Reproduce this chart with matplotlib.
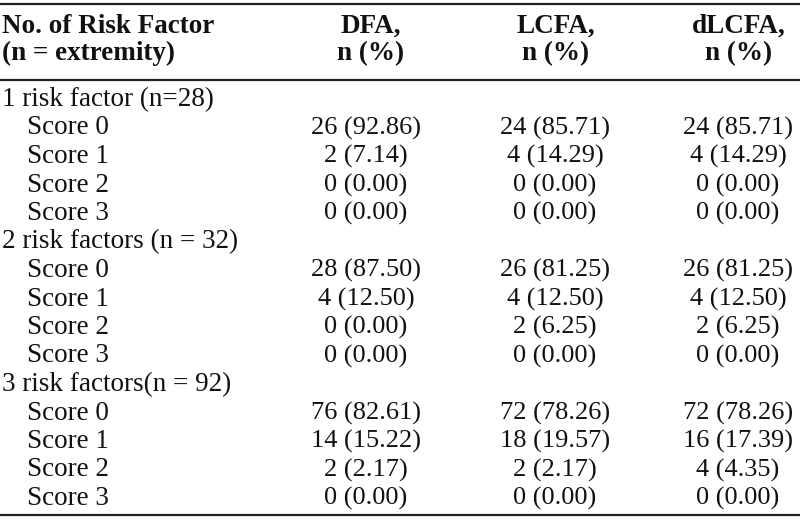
import matplotlib
matplotlib.use("Agg")
import matplotlib.pyplot as plt

header_left = ["No. of Risk Factor", "(n = extremity)"]
columns = ["DFA,\nn (%)", "LCFA,\nn (%)", "dLCFA,\nn (%)"]
groups = ["1 risk factor (n=28)", "2 risk factors (n = 32)", "3 risk factors(n = 92)"]
scores = ["Score 0", "Score 1", "Score 2", "Score 3"]

dfa = [["26 (92.86)", "2 (7.14)", "0 (0.00)", "0 (0.00)"],
       ["28 (87.50)", "4 (12.50)", "0 (0.00)", "0 (0.00)"],
       ["76 (82.61)", "14 (15.22)", "2 (2.17)", "0 (0.00)"]]
lcfa = [["24 (85.71)", "4 (14.29)", "0 (0.00)", "0 (0.00)"],
        ["26 (81.25)", "4 (12.50)", "2 (6.25)", "0 (0.00)"],
        ["72 (78.26)", "18 (19.57)", "2 (2.17)", "0 (0.00)"]]
dlcfa = [["24 (85.71)", "4 (14.29)", "0 (0.00)", "0 (0.00)"],
         ["26 (81.25)", "4 (12.50)", "2 (6.25)", "0 (0.00)"],
         ["72 (78.26)", "16 (17.39)", "4 (4.35)", "0 (0.00)"]]

W, H = 800, 522
fig = plt.figure(figsize=(W / 100, H / 100), dpi=100)
ax = fig.add_axes([0, 0, 1, 1])
ax.set_xlim(0, W)
ax.set_ylim(H, 0)
ax.axis("off")

FONT = ["Liberation Serif", "DejaVu Serif"]
FS_LBL = 19.5
FS_NUM = 19
FS_HEAD = 19.5
col_x_data = [366, 555, 738]
col_x_head = [371, 556, 739]
TXT = "#111111"

# rules
for y in (4, 80, 515):
    ax.plot([0, W], [y, y], color="#222222", lw=1.6, solid_capstyle="butt")

# header (baselines)
hb = [33, 60]
ax.text(2, hb[0], header_left[0], fontsize=FS_HEAD, fontweight="bold", family=FONT,
        va="baseline", ha="left", color=TXT)
ax.text(2, hb[1], header_left[1], fontsize=FS_HEAD, fontweight="bold", family=FONT,
        va="baseline", ha="left", color=TXT)
for cx, c in zip(col_x_head, columns):
    l1, l2 = c.split("\n")
    ax.text(cx, hb[0], l1, fontsize=FS_HEAD, fontweight="bold", family=FONT,
            va="baseline", ha="center", color=TXT)
    ax.text(cx, hb[1], l2, fontsize=FS_HEAD, fontweight="bold", family=FONT,
            va="baseline", ha="center", color=TXT)

y0, dy = 106, 28.5
row = 0
for g, grp in enumerate(groups):
    y = y0 + row * dy
    ax.text(2, y, grp, fontsize=FS_LBL, family=FONT, va="baseline", ha="left", color=TXT)
    row += 1
    for s, sc in enumerate(scores):
        y = y0 + row * dy
        ax.text(27, y, sc, fontsize=FS_LBL, family=FONT, va="baseline", ha="left", color=TXT)
        for cx, series in zip(col_x_data, (dfa, lcfa, dlcfa)):
            ax.text(cx, y, series[g][s], fontsize=FS_NUM, family=FONT,
                    va="baseline", ha="center", color=TXT)
        row += 1

fig.savefig("out.png", dpi=100, facecolor="white")
